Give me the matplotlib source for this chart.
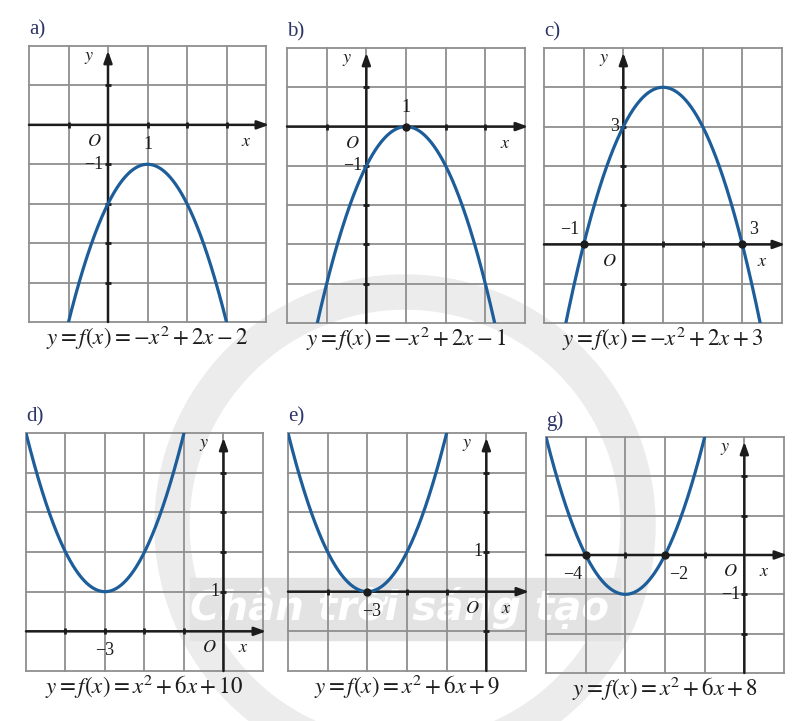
import numpy as np
import matplotlib.pyplot as plt
from matplotlib.patches import Wedge, Rectangle

plt.rcParams['mathtext.fontset'] = 'stix'
plt.rcParams['font.family'] = ['Liberation Serif', 'DejaVu Serif']

W, H = 811, 721

# panel data: f(x) = a*x^2 + b*x + c
labels = ['a)', 'b)', 'c)', 'd)', 'e)', 'g)']
coef_a = [-1, -1, -1, 1, 1, 1]
coef_b = [2, 2, 2, 6, 6, 6]
coef_c = [-2, -1, 3, 10, 9, 8]
x_lims = [(-2, 4), (-2, 4), (-2, 4), (-5, 1), (-5, 1), (-5, 1)]
y_lims = [(-5, 2), (-5, 2), (-2, 5), (-1, 5), (-2, 4), (-3, 3)]
captions = [r'$y = f(x) = -x^2 + 2x - 2$', r'$y = f(x) = -x^2 + 2x - 1$',
            r'$y = f(x) = -x^2 + 2x + 3$', r'$y = f(x) = x^2 + 6x + 10$',
            r'$y = f(x) = x^2 + 6x + 9$', r'$y = f(x) = x^2 + 6x + 8$']
marked_x = [[], [1], [-1, 3], [], [-3], [-4, -2]]

# text labels: (text, x, y, dx_px, dy_px, ha)
point_labels = [
    [('1', 1, 0, 0, -14, 'center'), ('\u22121', 0, -1, -3, 0, 'right')],
    [('1', 1, 0, 0, 14, 'center'), ('\u22121', 0, -1, -3, 0, 'right')],
    [('3', 0, 3, -3, 0, 'right'), ('\u22121', -1, 0, -3, 11, 'right'), ('3', 3, 0, 5, 11, 'left')],
    [('1', 0, 1, -3, 0, 'right'), ('\u22123', -3, 0, 0, -14, 'center')],
    [('1', 0, 1, -3, 0, 'right'), ('\u22123', -3, 0, 3, -14, 'center')],
    [('\u22124', -4, 0, -9, -14, 'center'), ('\u22122', -2, 0, 10, -14, 'center'), ('\u22121', 0, -1, -3, 0, 'right')],
]

# panel boxes in pixels: left, right, top, bottom
boxes = [(29, 266, 46, 322), (287, 525, 48, 323), (544, 782, 48, 323),
         (26, 263, 433, 671), (288, 526, 433, 671), (546, 784, 437, 673)]

fig = plt.figure(figsize=(W / 100, H / 100), dpi=100)

# faint background watermark
bg = fig.add_axes([0, 0, 1, 1])
bg.set_xlim(0, W)
bg.set_ylim(H, 0)
bg.axis('off')
bg.add_patch(Wedge((405, 525), 250, 0, 360, width=34, color='#ececec', zorder=0))
bg.add_patch(Rectangle((190, 578), 430, 62, color='#e3e3e3', zorder=0))
bg.text(400, 608, 'Chân trời sáng tạo', fontsize=29, fontweight='bold', style='italic',
        color='white', ha='center', va='center', family='DejaVu Sans', zorder=1)

grid_col = '#8f8f8f'
ax_col = '#1c1c1c'
curve_col = '#1d5e9a'

for i in range(6):
    l, r, t, b = boxes[i]
    ax = fig.add_axes([l / W, 1 - b / H, (r - l) / W, (b - t) / H])
    ax.axis('off')
    x0, x1 = x_lims[i]
    y0, y1 = y_lims[i]
    ax.set_xlim(x0, x1)
    ax.set_ylim(y0, y1)

    for gx in range(x0, x1 + 1):
        ax.plot([gx, gx], [y0, y1], color=grid_col, lw=1.3, clip_on=False, zorder=1)
    for gy in range(y0, y1 + 1):
        ax.plot([x0, x1], [gy, gy], color=grid_col, lw=1.3, clip_on=False, zorder=1)

    # axes with arrows
    ax.annotate('', xy=(x1 + 0.08, 0), xytext=(x0, 0), annotation_clip=False,
                arrowprops=dict(arrowstyle='-|>,head_length=0.7,head_width=0.25',
                                color=ax_col, lw=1.8, shrinkA=0, shrinkB=0), zorder=3)
    ax.annotate('', xy=(0, y1 - 0.12), xytext=(0, y0), annotation_clip=False,
                arrowprops=dict(arrowstyle='-|>,head_length=0.7,head_width=0.25',
                                color=ax_col, lw=1.8, shrinkA=0, shrinkB=0), zorder=3)
    tx = [v for v in range(x0 + 1, x1) if v != 0]
    ty = [v for v in range(y0 + 1, y1) if v != 0]
    ax.plot(tx, [0] * len(tx), ls='none', marker='|', ms=5, mew=2, color=ax_col, zorder=3)
    ax.plot([0] * len(ty), ty, ls='none', marker='_', ms=5, mew=2, color=ax_col, zorder=3)

    xs = np.linspace(x0, x1, 600)
    ys = np.polyval([coef_a[i], coef_b[i], coef_c[i]], xs)
    ax.plot(xs, ys, color=curve_col, lw=2.3, zorder=4)

    if marked_x[i]:
        ax.plot(marked_x[i], [0] * len(marked_x[i]), 'o', ms=5, color=ax_col, zorder=5)

    ax.annotate(r'$O$', (0, 0), xytext=(-10, -12), textcoords='offset points',
                ha='center', va='center', fontsize=13, color=ax_col)
    ax.annotate(r'$x$', (x1 - 0.5, 0), xytext=(0, -12), textcoords='offset points',
                ha='center', va='center', fontsize=13, color=ax_col)
    ax.annotate(r'$y$', (0, y1 - 0.3), xytext=(-14, 0), textcoords='offset points',
                ha='center', va='center', fontsize=13, color=ax_col)
    for txt, px, py, dx, dy, ha in point_labels[i]:
        ax.annotate(txt, (px, py), xytext=(dx, dy), textcoords='offset points',
                    ha=ha, va='center', fontsize=13, color=ax_col)

    fig.text(l / W, 1 - (t - 16) / H, labels[i], fontsize=15, color='#2c3566',
             ha='left', va='center')
    fig.text((l + r) / 2 / W, 1 - (b + 16) / H, captions[i], fontsize=16.5,
             color=ax_col, ha='center', va='center')

fig.savefig('out.png', dpi=100)
